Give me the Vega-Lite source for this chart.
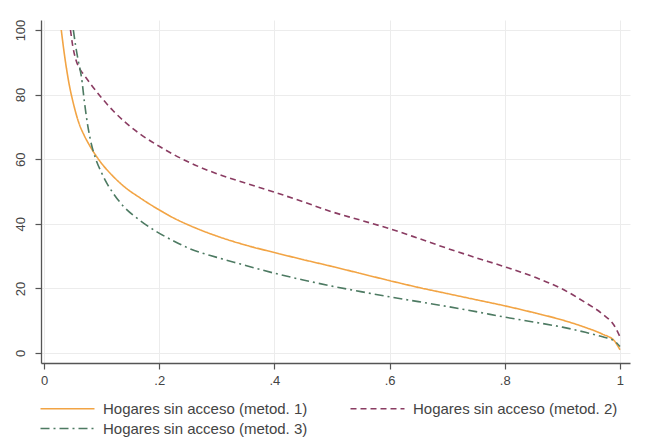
{
  "$schema": "https://vega.github.io/schema/vega-lite/v6.json",
  "width": 589,
  "height": 343,
  "autosize": {"type": "none"},
  "padding": {"left": 41, "top": 20, "right": 15, "bottom": 85},
  "background": "white",
  "config": {
    "view": {"stroke": null},
    "font": "Liberation Sans",
    "axis": {
      "grid": true,
      "gridColor": "#ececec",
      "gridWidth": 1,
      "domainColor": "#555555",
      "domainWidth": 1.3,
      "tickColor": "#555555",
      "tickWidth": 1.2,
      "tickSize": 6,
      "labelColor": "#444444",
      "labelFontSize": 13,
      "labelFont": "Liberation Sans",
      "title": null
    }
  },
  "datasets": {
    "curves": [
      {"p": 0.030, "v": 100, "serie": "Hogares sin acceso (metod. 1)"},
      {"p": 0.035, "v": 93, "serie": "Hogares sin acceso (metod. 1)"},
      {"p": 0.040, "v": 87, "serie": "Hogares sin acceso (metod. 1)"},
      {"p": 0.045, "v": 82, "serie": "Hogares sin acceso (metod. 1)"},
      {"p": 0.050, "v": 78, "serie": "Hogares sin acceso (metod. 1)"},
      {"p": 0.055, "v": 74.5, "serie": "Hogares sin acceso (metod. 1)"},
      {"p": 0.060, "v": 71.5, "serie": "Hogares sin acceso (metod. 1)"},
      {"p": 0.070, "v": 67.3, "serie": "Hogares sin acceso (metod. 1)"},
      {"p": 0.080, "v": 64, "serie": "Hogares sin acceso (metod. 1)"},
      {"p": 0.100, "v": 58.7, "serie": "Hogares sin acceso (metod. 1)"},
      {"p": 0.120, "v": 54.7, "serie": "Hogares sin acceso (metod. 1)"},
      {"p": 0.140, "v": 51.4, "serie": "Hogares sin acceso (metod. 1)"},
      {"p": 0.167, "v": 48.0, "serie": "Hogares sin acceso (metod. 1)"},
      {"p": 0.200, "v": 44.3, "serie": "Hogares sin acceso (metod. 1)"},
      {"p": 0.225, "v": 41.8, "serie": "Hogares sin acceso (metod. 1)"},
      {"p": 0.250, "v": 39.7, "serie": "Hogares sin acceso (metod. 1)"},
      {"p": 0.300, "v": 36.2, "serie": "Hogares sin acceso (metod. 1)"},
      {"p": 0.350, "v": 33.4, "serie": "Hogares sin acceso (metod. 1)"},
      {"p": 0.400, "v": 31.1, "serie": "Hogares sin acceso (metod. 1)"},
      {"p": 0.450, "v": 28.9, "serie": "Hogares sin acceso (metod. 1)"},
      {"p": 0.500, "v": 26.8, "serie": "Hogares sin acceso (metod. 1)"},
      {"p": 0.550, "v": 24.6, "serie": "Hogares sin acceso (metod. 1)"},
      {"p": 0.600, "v": 22.4, "serie": "Hogares sin acceso (metod. 1)"},
      {"p": 0.650, "v": 20.3, "serie": "Hogares sin acceso (metod. 1)"},
      {"p": 0.700, "v": 18.4, "serie": "Hogares sin acceso (metod. 1)"},
      {"p": 0.750, "v": 16.5, "serie": "Hogares sin acceso (metod. 1)"},
      {"p": 0.800, "v": 14.6, "serie": "Hogares sin acceso (metod. 1)"},
      {"p": 0.850, "v": 12.5, "serie": "Hogares sin acceso (metod. 1)"},
      {"p": 0.900, "v": 10.2, "serie": "Hogares sin acceso (metod. 1)"},
      {"p": 0.940, "v": 7.9, "serie": "Hogares sin acceso (metod. 1)"},
      {"p": 0.970, "v": 5.8, "serie": "Hogares sin acceso (metod. 1)"},
      {"p": 0.990, "v": 3.8, "serie": "Hogares sin acceso (metod. 1)"},
      {"p": 1.000, "v": 1.0, "serie": "Hogares sin acceso (metod. 1)"},

      {"p": 0.046, "v": 100, "serie": "Hogares sin acceso (metod. 2)"},
      {"p": 0.050, "v": 95, "serie": "Hogares sin acceso (metod. 2)"},
      {"p": 0.055, "v": 91, "serie": "Hogares sin acceso (metod. 2)"},
      {"p": 0.062, "v": 88, "serie": "Hogares sin acceso (metod. 2)"},
      {"p": 0.070, "v": 86, "serie": "Hogares sin acceso (metod. 2)"},
      {"p": 0.080, "v": 83.5, "serie": "Hogares sin acceso (metod. 2)"},
      {"p": 0.100, "v": 79, "serie": "Hogares sin acceso (metod. 2)"},
      {"p": 0.120, "v": 75, "serie": "Hogares sin acceso (metod. 2)"},
      {"p": 0.140, "v": 71.6, "serie": "Hogares sin acceso (metod. 2)"},
      {"p": 0.170, "v": 67.4, "serie": "Hogares sin acceso (metod. 2)"},
      {"p": 0.200, "v": 64, "serie": "Hogares sin acceso (metod. 2)"},
      {"p": 0.250, "v": 59.2, "serie": "Hogares sin acceso (metod. 2)"},
      {"p": 0.300, "v": 55.5, "serie": "Hogares sin acceso (metod. 2)"},
      {"p": 0.350, "v": 52.6, "serie": "Hogares sin acceso (metod. 2)"},
      {"p": 0.400, "v": 49.8, "serie": "Hogares sin acceso (metod. 2)"},
      {"p": 0.450, "v": 46.8, "serie": "Hogares sin acceso (metod. 2)"},
      {"p": 0.500, "v": 43.7, "serie": "Hogares sin acceso (metod. 2)"},
      {"p": 0.550, "v": 41.1, "serie": "Hogares sin acceso (metod. 2)"},
      {"p": 0.600, "v": 38.5, "serie": "Hogares sin acceso (metod. 2)"},
      {"p": 0.650, "v": 35.5, "serie": "Hogares sin acceso (metod. 2)"},
      {"p": 0.700, "v": 32.4, "serie": "Hogares sin acceso (metod. 2)"},
      {"p": 0.750, "v": 29.5, "serie": "Hogares sin acceso (metod. 2)"},
      {"p": 0.800, "v": 26.7, "serie": "Hogares sin acceso (metod. 2)"},
      {"p": 0.850, "v": 23.6, "serie": "Hogares sin acceso (metod. 2)"},
      {"p": 0.900, "v": 19.8, "serie": "Hogares sin acceso (metod. 2)"},
      {"p": 0.940, "v": 15.6, "serie": "Hogares sin acceso (metod. 2)"},
      {"p": 0.970, "v": 12.0, "serie": "Hogares sin acceso (metod. 2)"},
      {"p": 0.990, "v": 8.5, "serie": "Hogares sin acceso (metod. 2)"},
      {"p": 1.000, "v": 5.0, "serie": "Hogares sin acceso (metod. 2)"},

      {"p": 0.051, "v": 100, "serie": "Hogares sin acceso (metod. 3)"},
      {"p": 0.055, "v": 95, "serie": "Hogares sin acceso (metod. 3)"},
      {"p": 0.060, "v": 90, "serie": "Hogares sin acceso (metod. 3)"},
      {"p": 0.065, "v": 85.5, "serie": "Hogares sin acceso (metod. 3)"},
      {"p": 0.070, "v": 78, "serie": "Hogares sin acceso (metod. 3)"},
      {"p": 0.075, "v": 71.5, "serie": "Hogares sin acceso (metod. 3)"},
      {"p": 0.080, "v": 66.5, "serie": "Hogares sin acceso (metod. 3)"},
      {"p": 0.090, "v": 60, "serie": "Hogares sin acceso (metod. 3)"},
      {"p": 0.100, "v": 55.8, "serie": "Hogares sin acceso (metod. 3)"},
      {"p": 0.109, "v": 52.6, "serie": "Hogares sin acceso (metod. 3)"},
      {"p": 0.120, "v": 49.5, "serie": "Hogares sin acceso (metod. 3)"},
      {"p": 0.138, "v": 45.4, "serie": "Hogares sin acceso (metod. 3)"},
      {"p": 0.167, "v": 41.0, "serie": "Hogares sin acceso (metod. 3)"},
      {"p": 0.196, "v": 37.5, "serie": "Hogares sin acceso (metod. 3)"},
      {"p": 0.225, "v": 34.7, "serie": "Hogares sin acceso (metod. 3)"},
      {"p": 0.253, "v": 32.3, "serie": "Hogares sin acceso (metod. 3)"},
      {"p": 0.300, "v": 29.6, "serie": "Hogares sin acceso (metod. 3)"},
      {"p": 0.340, "v": 27.6, "serie": "Hogares sin acceso (metod. 3)"},
      {"p": 0.400, "v": 24.7, "serie": "Hogares sin acceso (metod. 3)"},
      {"p": 0.450, "v": 22.6, "serie": "Hogares sin acceso (metod. 3)"},
      {"p": 0.500, "v": 20.7, "serie": "Hogares sin acceso (metod. 3)"},
      {"p": 0.550, "v": 19.0, "serie": "Hogares sin acceso (metod. 3)"},
      {"p": 0.600, "v": 17.4, "serie": "Hogares sin acceso (metod. 3)"},
      {"p": 0.650, "v": 15.9, "serie": "Hogares sin acceso (metod. 3)"},
      {"p": 0.700, "v": 14.4, "serie": "Hogares sin acceso (metod. 3)"},
      {"p": 0.750, "v": 12.8, "serie": "Hogares sin acceso (metod. 3)"},
      {"p": 0.800, "v": 11.1, "serie": "Hogares sin acceso (metod. 3)"},
      {"p": 0.850, "v": 9.6, "serie": "Hogares sin acceso (metod. 3)"},
      {"p": 0.900, "v": 8.0, "serie": "Hogares sin acceso (metod. 3)"},
      {"p": 0.940, "v": 6.4, "serie": "Hogares sin acceso (metod. 3)"},
      {"p": 0.970, "v": 5.0, "serie": "Hogares sin acceso (metod. 3)"},
      {"p": 0.990, "v": 3.8, "serie": "Hogares sin acceso (metod. 3)"},
      {"p": 1.000, "v": 2.0, "serie": "Hogares sin acceso (metod. 3)"}
    ]
  },
  "data": {"name": "curves"},
  "mark": {"type": "line", "strokeWidth": 1.6, "clip": true, "interpolate": "monotone"},
  "encoding": {
    "x": {
      "field": "p",
      "type": "quantitative",
      "scale": {"domain": [-0.0052, 1.0174], "nice": false, "zero": false},
      "axis": {
        "values": [0, 0.2, 0.4, 0.6, 0.8, 1],
        "labelExpr": "datum.value == 0 ? '0' : datum.value == 1 ? '1' : replace(format(datum.value, '.1f'), '0.', '.')",
        "labelPadding": 5,
        "labelFlush": false
      }
    },
    "y": {
      "field": "v",
      "type": "quantitative",
      "scale": {"domain": [-3.1, 103.1], "nice": false, "zero": false},
      "axis": {
        "values": [0, 20, 40, 60, 80, 100],
        "labelAngle": -90,
        "labelPadding": 8,
        "labelFlush": false
      }
    },
    "color": {
      "field": "serie",
      "type": "nominal",
      "scale": {
        "domain": ["Hogares sin acceso (metod. 1)", "Hogares sin acceso (metod. 2)", "Hogares sin acceso (metod. 3)"],
        "range": ["#f2a444", "#8a3c62", "#4d7a62"]
      },
      "legend": {
        "orient": "none",
        "legendX": 19,
        "legendY": 381,
        "direction": "horizontal",
        "columns": 2,
        "title": null,
        "symbolType": "M-5.4,0H5.4",
        "symbolSize": 100,
        "symbolStrokeWidth": 1.6,
        "labelFontSize": 15,
        "labelFont": "Liberation Sans",
        "labelColor": "#444444",
        "labelLimit": 400,
        "labelOffset": 28,
        "columnPadding": 39,
        "rowPadding": 4,
        "padding": 0
      }
    },
    "strokeDash": {
      "field": "serie",
      "type": "nominal",
      "scale": {
        "domain": ["Hogares sin acceso (metod. 1)", "Hogares sin acceso (metod. 2)", "Hogares sin acceso (metod. 3)"],
        "range": [[1, 0], [6, 4], [9, 4, 2, 4]]
      },
      "legend": null
    }
  }
}
